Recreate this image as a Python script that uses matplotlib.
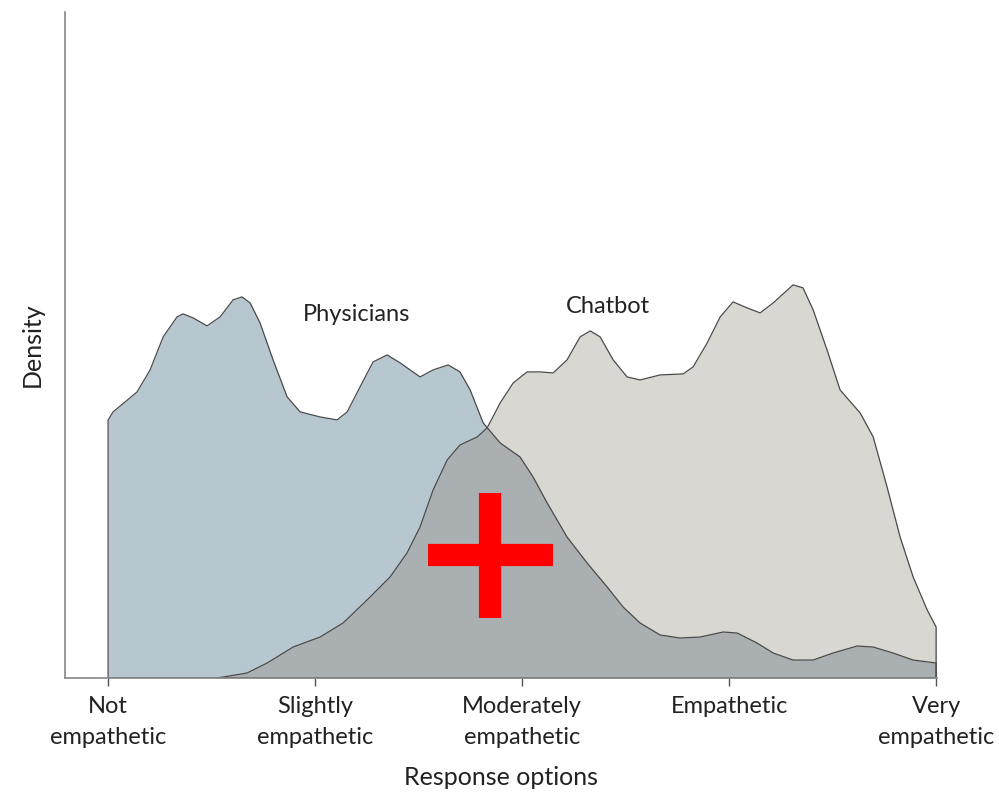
import matplotlib.pyplot as plt
import numpy as np

plt.rcParams['font.family'] = ['Lato', 'DejaVu Sans']

# Response scale (1 = Not empathetic ... 5 = Very empathetic)
tick_positions = [1, 2, 3, 4, 5]
tick_labels = ['Not\nempathetic', 'Slightly\nempathetic', 'Moderately\nempathetic',
               'Empathetic', 'Very\nempathetic']

# Density curves
physician_x = [1.000, 1.024, 1.140, 1.203, 1.266, 1.333, 1.362, 1.411, 1.478, 1.541,
               1.604, 1.647, 1.686, 1.734, 1.797, 1.865, 1.928, 2.024, 2.106, 2.155,
               2.217, 2.280, 2.348, 2.411, 2.507, 2.570, 2.643, 2.700, 2.749, 2.812,
               2.894, 2.990, 3.053, 3.121, 3.217, 3.314, 3.411, 3.488, 3.570, 3.667,
               3.763, 3.860, 3.971, 4.039, 4.135, 4.213, 4.309, 4.406, 4.502, 4.618,
               4.696, 4.792, 4.889, 5.000]
physician_y = [0.258, 0.266, 0.286, 0.308, 0.341, 0.361, 0.364, 0.360, 0.352, 0.361,
               0.378, 0.381, 0.375, 0.355, 0.318, 0.281, 0.266, 0.261, 0.258, 0.266,
               0.291, 0.316, 0.323, 0.315, 0.301, 0.308, 0.313, 0.306, 0.288, 0.255,
               0.235, 0.221, 0.201, 0.175, 0.141, 0.115, 0.091, 0.071, 0.055, 0.043,
               0.040, 0.041, 0.046, 0.045, 0.035, 0.025, 0.018, 0.018, 0.025, 0.032,
               0.031, 0.025, 0.018, 0.015]

chatbot_x = [1.517, 1.556, 1.671, 1.768, 1.894, 2.024, 2.135, 2.251, 2.362, 2.444,
             2.507, 2.570, 2.638, 2.700, 2.783, 2.831, 2.894, 2.957, 3.024, 3.087,
             3.150, 3.217, 3.280, 3.329, 3.377, 3.440, 3.507, 3.570, 3.667, 3.778,
             3.826, 3.894, 3.957, 4.019, 4.087, 4.150, 4.213, 4.309, 4.357, 4.406,
             4.473, 4.536, 4.633, 4.696, 4.763, 4.826, 4.889, 4.957, 5.000]
chatbot_y = [0.000, 0.001, 0.005, 0.015, 0.031, 0.041, 0.055, 0.078, 0.101, 0.125,
             0.151, 0.188, 0.218, 0.233, 0.241, 0.250, 0.275, 0.295, 0.306, 0.306,
             0.305, 0.318, 0.341, 0.347, 0.341, 0.318, 0.301, 0.298, 0.303, 0.304,
             0.311, 0.335, 0.361, 0.376, 0.370, 0.365, 0.375, 0.393, 0.390, 0.368,
             0.328, 0.288, 0.265, 0.241, 0.191, 0.141, 0.101, 0.068, 0.051]

# red cross annotation
cross_x = 2.845
cross_y = 0.123

phys_color = '#b7c7d0'
chat_color = '#d9d7d1'
overlap_color = '#aab0b1'
line_color = '#4a4a4a'
text_color = '#222222'

fig = plt.figure(figsize=(9.99, 7.96), dpi=100)
ax = fig.add_axes([0.0651, 0.1482, 0.873, 0.837])

ax.fill_between(physician_x, physician_y, color=phys_color, linewidth=0)
ax.fill_between(chatbot_x, chatbot_y, color=chat_color, linewidth=0)

# overlap = where both densities cover
grid = np.union1d(physician_x, chatbot_x)
p_on = np.interp(grid, physician_x, physician_y, left=0, right=0)
c_on = np.interp(grid, chatbot_x, chatbot_y, left=0, right=0)
ax.fill_between(grid, np.minimum(p_on, c_on), color=overlap_color, linewidth=0)

# outlines
ax.fill_between(physician_x, physician_y, facecolor='none', edgecolor=line_color, linewidth=0.9)
ax.fill_between(chatbot_x, chatbot_y, facecolor='none', edgecolor=line_color, linewidth=0.9)

ax.text(2.2, 0.363, 'Physicians', ha='center', va='center', fontsize=17, color=text_color)
ax.text(3.415, 0.371, 'Chatbot', ha='center', va='center', fontsize=17, color=text_color)

ax.plot([cross_x], [cross_y], marker='+', markersize=90, markeredgewidth=16,
        color='#ff0000', linestyle='none')

ax.set_xlim(0.792, 5.005)
ax.set_ylim(0, 0.666)
ax.set_xticks(tick_positions)
ax.set_xticklabels(tick_labels, fontsize=17, color=text_color, linespacing=1.6)
ax.set_yticks([])
ax.tick_params(axis='x', direction='out', length=6, width=1, color='#555555', pad=7)

for side in ['top', 'right']:
    ax.spines[side].set_visible(False)
for side in ['left', 'bottom']:
    ax.spines[side].set_color('#888888')
    ax.spines[side].set_linewidth(1.2)

ax.set_xlabel('Response options', fontsize=18, color=text_color, labelpad=13)
ax.set_ylabel('Density', fontsize=18, color=text_color, labelpad=15)

plt.savefig('out.png', dpi=100)
plt.close()
